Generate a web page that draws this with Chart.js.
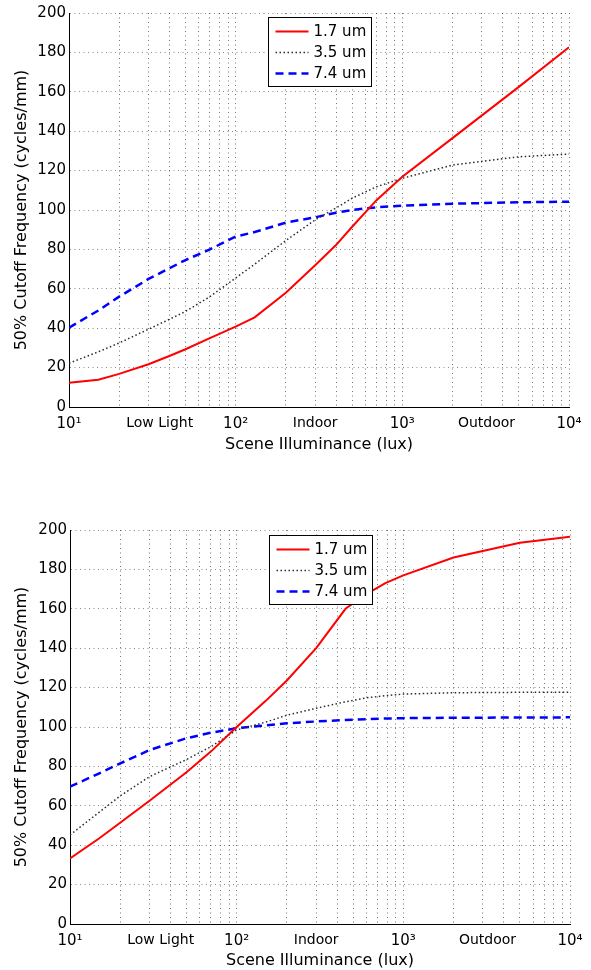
<!DOCTYPE html>
<html><head><meta charset="utf-8">
<script src="https://cdn.jsdelivr.net/npm/chart.js@4.4.0/dist/chart.umd.min.js"></script>
<style>html,body{margin:0;padding:0;background:#fff;}canvas{display:block;}</style>
</head><body>
<canvas id="c1" width="591" height="485"></canvas>
<canvas id="c2" width="591" height="485"></canvas>
<script>
// ---------- data ----------
const seriesNames = ['1.7 um', '3.5 um', '7.4 um'];

const topLux   = [10, 15, 20, 30, 40, 50, 70, 100, 130, 200, 300, 400, 500, 700, 1000, 2000, 5000, 10000];
const topRed   = [12.3, 13.8, 16.8, 21.7, 25.9, 29.3, 35, 40.8, 45.5, 58, 72, 82.2, 91.5, 105, 116.9, 136.5, 162.5, 182.6];
const topGray  = [22.2, 28, 32.5, 39.5, 44.5, 48.5, 56, 65.5, 72.5, 84.5, 95, 101, 106, 111.8, 116.1, 122.8, 127, 128.4];
const topBlue  = [40.3, 49, 56, 65, 70.4, 74.6, 80, 86.5, 88.8, 93.6, 96.3, 98.6, 100, 101.4, 102.2, 103.2, 103.9, 104.2];

const botLux   = [10, 15, 20, 30, 50, 70, 100, 150, 200, 300, 450, 600, 780, 1000, 2000, 5000, 10000];
const botRed   = [33.3, 43.5, 51.4, 62.6, 77, 87.5, 100, 113.4, 123.6, 140, 160, 167.5, 173, 177, 186, 193.5, 196.6];
const botGray  = [45.2, 56.8, 65, 74.8, 83.5, 90, 98.5, 102.5, 106, 109.5, 112.8, 114.8, 115.9, 116.7, 117.4, 117.6, 117.7];
const botBlue  = [69.7, 76.5, 81.5, 88.3, 94.3, 97.1, 99.4, 100.9, 101.9, 102.8, 103.6, 104.0, 104.3, 104.5, 104.7, 104.8, 104.9];

const gridLux = [10,20,30,40,50,60,70,80,90,100,200,300,400,500,600,700,800,900,1000,2000,3000,4000,5000,6000,7000,8000,9000,10000];
const decadeTicks  = [10, 100, 1000, 10000];
const decadeLabels = ['10\u00B9', '10\u00B2', '10\u00B3', '10\u2074'];
const regionTicks  = [35, 300, 3200];
const regionLabels = ['Low Light', 'Indoor', 'Outdoor'];
const yTicks = [0, 20, 40, 60, 80, 100, 120, 140, 160, 180, 200];

const xTitle = 'Scene Illuminance (lux)';
const yTitle = '50% Cutoff Frequency (cycles/mm)';

// ---------- helpers ----------
const FONT = 'DejaVu Sans';
Chart.defaults.font.family = FONT;
Chart.defaults.color = '#000';

function pts(xs, ys) { return xs.map((x, i) => ({x: x, y: ys[i]})); }
function labelFor(v) {
  let i = decadeTicks.indexOf(v); if (i >= 0) return decadeLabels[i];
  i = regionTicks.indexOf(v); if (i >= 0) return regionLabels[i];
  return '';
}
const xTickValues = Array.from(new Set(gridLux.concat(regionTicks))).sort((a, b) => a - b);

// legend box drawn on top of the data, centred at the top of the plot area
const boxLegend = {
  id: 'boxLegend',
  afterDatasetsDraw(chart, args, opts) {
    const ctx = chart.ctx, area = chart.chartArea;
    const ds = chart.data.datasets;
    ctx.save();
    ctx.font = '15px "' + FONT + '"';
    let tw = 0;
    ds.forEach(d => { tw = Math.max(tw, ctx.measureText(d.label).width); });
    const padL = 7, lineW = 33, gap = 5, padR = 5, rowH = 21, padT = 10, padB = 8;
    const w = padL + lineW + gap + tw + padR;
    const h = padT + rowH * (ds.length - 1) + padB + 9;
    const cx = (area.left + area.right) / 2;
    const L = Math.round(cx - w / 2) + 0.5;
    const T = Math.round(area.top + opts.offsetTop) + 0.5;
    ctx.fillStyle = '#fff';
    ctx.fillRect(L, T, w, h);
    ctx.strokeStyle = '#000'; ctx.lineWidth = 1; ctx.setLineDash([]);
    ctx.strokeRect(L, T, Math.round(w), Math.round(h));
    ds.forEach((d, i) => {
      const y = T + padT + 4 + i * rowH;
      ctx.save();
      ctx.strokeStyle = d.borderColor; ctx.lineWidth = d.borderWidth;
      ctx.setLineDash(d.borderDash || []);
      ctx.beginPath(); ctx.moveTo(L + padL, y); ctx.lineTo(L + padL + lineW, y); ctx.stroke();
      ctx.restore();
      ctx.fillStyle = '#000'; ctx.textBaseline = 'middle'; ctx.textAlign = 'left';
      ctx.fillText(d.label, L + padL + lineW + gap, y + 0.5);
    });
    ctx.restore();
  }
};

function makeChart(id, lux, red, gray, blue, pad, yW, xH, titlePadBottom, legendTop) {
  return new Chart(document.getElementById(id), {
    type: 'line',
    data: {
      datasets: [
        {label: seriesNames[0], data: pts(lux, red), borderColor: '#ff0000', backgroundColor: '#ff0000', borderWidth: 2, borderDash: [], pointRadius: 0, tension: 0},
        {label: seriesNames[1], data: pts(lux, gray), borderColor: '#2a2a2a', backgroundColor: '#2a2a2a', borderWidth: 1.5, borderDash: [1.5, 2.5], pointRadius: 0, tension: 0},
        {label: seriesNames[2], data: pts(lux, blue), borderColor: '#0000ff', backgroundColor: '#0000ff', borderWidth: 2.5, borderDash: [8, 5], pointRadius: 0, tension: 0}
      ]
    },
    options: {
      responsive: false, animation: false, devicePixelRatio: 1,
      layout: {padding: pad},
      plugins: {
        legend: {display: false},
        tooltip: {enabled: false},
        boxLegend: {offsetTop: legendTop}
      },
      scales: {
        x: {
          type: 'logarithmic', min: 10, max: 10000,
          afterBuildTicks: s => { s.ticks = xTickValues.map(v => ({value: v})); },
          afterFit: s => { s.height = xH; },
          ticks: {
            autoSkip: false, maxRotation: 0, minRotation: 0, padding: 8, color: '#000',
            callback: v => labelFor(v),
            font: c => (c.tick && regionTicks.indexOf(c.tick.value) >= 0 && decadeTicks.indexOf(c.tick.value) < 0) ? {size: 14, family: FONT} : {size: 15, family: FONT}
          },
          grid: {
            drawTicks: false, lineWidth: 1,
            color: c => (c.tick && gridLux.indexOf(c.tick.value) >= 0) ? 'rgba(0,0,0,0.55)' : 'rgba(0,0,0,0)'
          },
          border: {display: true, color: '#000', width: 1, dash: [1, 3.5]},
          title: {display: true, text: xTitle, color: '#000', font: {size: 16, family: FONT}, padding: {top: 0, bottom: titlePadBottom}}
        },
        y: {
          type: 'linear', min: 0, max: 200,
          afterBuildTicks: s => { s.ticks = yTicks.map(v => ({value: v})); },
          afterFit: s => { s.width = yW; },
          ticks: {padding: 3, color: '#000', font: {size: 15, family: FONT}},
          grid: {drawTicks: false, lineWidth: 1, color: 'rgba(0,0,0,0.45)'},
          border: {display: true, color: '#000', width: 1, dash: [1, 3.5]},
          title: {display: true, text: yTitle, color: '#000', font: {size: 16, family: FONT}, padding: 0}
        }
      }
    },
    plugins: [boxLegend]
  });
}

makeChart('c1', topLux, topRed, topGray, topBlue, {left: 12, right: 22, top: 13, bottom: 0}, 57, 78, 31, 4);
makeChart('c2', botLux, botRed, botGray, botBlue, {left: 12, right: 21, top: 45, bottom: 0}, 58, 46, 0, 5);
</script>
</body></html>
